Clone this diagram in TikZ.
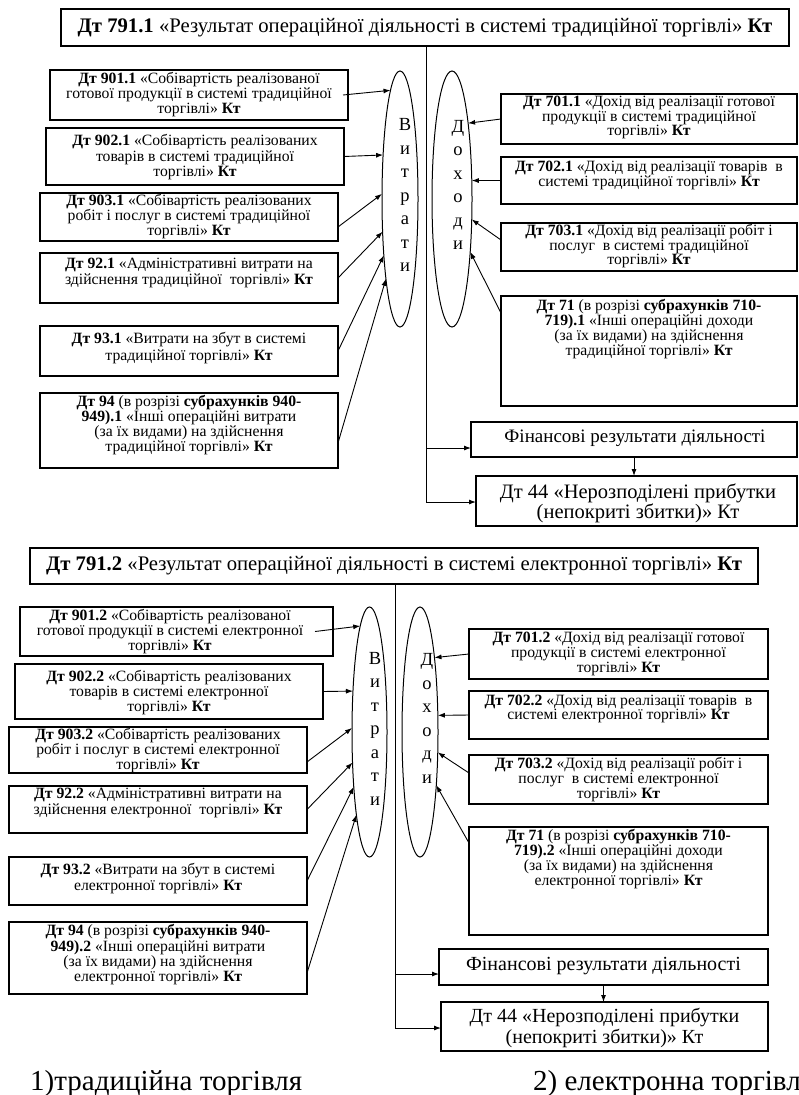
\documentclass[tikz,border=0pt]{standalone}
\usepackage{fontspec}
\setmainfont{Liberation Serif}
\usetikzlibrary{shapes.geometric,arrows.meta,fit,calc}
\begin{document}
\begin{tikzpicture}[x=1pt,y=-1pt,
  bx/.style={draw, inner sep=0pt, outer sep=0pt, line width=1.1pt},
  tx/.style={align=center, inner sep=0pt, font=\fontsize{15.7}{#1}\selectfont},
  tt/.style={inner sep=0pt, font=\fontsize{20.7}{22}\selectfont},
  big/.style={align=center, inner sep=0pt, font=\fontsize{19}{#1}\selectfont},
  vt/.style={align=center, inner sep=0pt, font=\fontsize{18.5}{23.5}\selectfont},
  el/.style={draw, ellipse, inner sep=0pt, outer sep=0pt, line width=1pt},
  arr/.style={-{Latex[length=7pt,width=5pt]}, line width=0.9pt},
  ln/.style={line width=1pt},
  captxt/.style={inner sep=0pt, anchor=base west, font=\fontsize{29}{30}\selectfont},
]
\clip (0,0) rectangle (798,1095);
\fill[white] (0,0) rectangle (798,1095);

% ================= TOP PART =================
\node[bx, fit={(61,9) (789,46)}] (t1) {};
\node[tt] (t1t) at (425,27.5) {\textbf{Дт 791.1} «Результат операційної діяльності в системі традиційної торгівлі» \textbf{Кт}};

\node[bx, fit={(50,70) (348,120)}] (l1) {};
\node[tx=12.5] (l1t) at (199,94.5) {\textbf{Дт 901.1} «Собівартість реалізованої\\готової продукції в системі традиційної\\торгівлі» \textbf{Кт}};
\node[bx, fit={(46,128) (344,185)}] (l2) {};
\node[tx=15.5] (l2t) at (195,157.5) {\textbf{Дт 902.1} «Собівартість реалізованих\\товарів в системі традиційної\\торгівлі» \textbf{Кт}};
\node[bx, fit={(40,193) (338,241)}] (l3) {};
\node[tx=13.5] (l3t) at (189,216.5) {\textbf{Дт 903.1} «Собівартість реалізованих\\робіт і послуг в системі традиційної\\торгівлі» \textbf{Кт}};
\node[bx, fit={(40,253) (338,303)}] (l4) {};
\node[tx=12] (l4t) at (189,273) {\textbf{Дт 92.1} «Адміністративні витрати на\\здійснення традиційної\ \ торгівлі» \textbf{Кт}};
\node[bx, fit={(40,326) (338,376)}] (l5) {};
\node[tx=17] (l5t) at (189,348.5) {\textbf{Дт 93.1} «Витрати на збут в системі\\традиційної торгівлі» \textbf{Кт}};
\node[bx, fit={(40,393) (338,468)}] (l6) {};
\node[tx=13.3] (l6t) at (189,425) {\textbf{Дт 94} (в розрізі \textbf{субрахунків 940-}\\\textbf{949).1} «Інші операційні витрати\\(за їх видами) на здійснення\\традиційної торгівлі» \textbf{Кт}};

\node[bx, fit={(501,94) (797,144)}] (r1) {};
\node[tx=11.5] (r1t) at (649,117.5) {\textbf{Дт 701.1} «Дохід від реалізації готової\\продукції в системі традиційної\\торгівлі» \textbf{Кт}};
\node[bx, fit={(501,157) (797,204)}] (r2) {};
\node[tx=14] (r2t) at (649,175) {\textbf{Дт 702.1} «Дохід від реалізації товарів\ \ в\\системі традиційної торгівлі» \textbf{Кт}};
\node[bx, fit={(501,223) (797,271)}] (r3) {};
\node[tx=12.5] (r3t) at (649,246) {\textbf{Дт 703.1} «Дохід від реалізації робіт і\\послуг\ \ в системі традиційної\\торгівлі» \textbf{Кт}};
\node[bx, fit={(501,296) (797,406)}] (r4) {};
\node[tx=14] (r4t) at (649,329) {\textbf{Дт 71} (в розрізі \textbf{субрахунків 710-}\\\textbf{719).1} «Інші операційні доходи\\(за їх видами) на здійснення\\традиційної торгівлі» \textbf{Кт}};

\node[el, minimum width=36pt, minimum height=256pt] (vit1) at (400,199) {};
\node[vt] (vit1t) at (405,195) {В\\и\\т\\р\\а\\т\\и};
\node[el, minimum width=40pt, minimum height=256pt] (doh1) at (452,199) {};
\node[vt] (doh1t) at (458,185) {Д\\о\\х\\о\\д\\и};

\node[bx, fit={(471,422) (797,457)}] (f1) {};
\node[big=20] (f1t) at (635,438) {Фінансові результати діяльності};
\node[bx, fit={(476,476) (797,526)}] (d1) {};
\node[big=20, font=\fontsize{20.5}{20}\selectfont] (d1t) at (638,503) {Дт 44 «Нерозподілені прибутки\\(непокриті збитки)» Кт};

\draw[arr] ($(l1.east)+(-5,0)$) -- (vit1.95.8);
\draw[arr] (l2.east) -- (vit1.111.8);
\draw[arr] ($(l3.east)+(0,10)$) -- (vit1.164.5);
\draw[arr] (l4.east) -- (vit1.242.2);
\draw[arr] (l5.east) -- (vit1.254.85);
\draw[arr] ($(l6.east)+(0,12.5)$) -- (vit1.260.8);

\draw[arr] (r1.west) -- (doh1.78.96);
\draw[arr] (r2.west) -- (doh1.43.07);
\draw[arr] ($(r3.west)+(0,-7)$) -- (doh1.314.6);
\draw[arr] ($(r4.north west)+(0,17)$) -- (doh1.289.8);

\draw[ln] (t1.south -| 426,0) -- (426,502);
\draw[arr] (426,448) -- (426,448 -| f1.west);
\draw[arr] (426,502) -- (426,502 -| d1.west);
\draw[arr] (f1.south) -- (f1.south |- d1.north);

% ================= BOTTOM PART =================
\node[bx, fit={(30,548) (758,584)}] (t2) {};
\node[tt] (t2t) at (394,566) {\textbf{Дт 791.2} «Результат операційної діяльності в системі електронної торгівлі» \textbf{Кт}};

\node[bx, fit={(20,607) (333,656)}] (l1b) {};
\node[tx=11.5] (l1bt) at (170,631.5) {\textbf{Дт 901.2} «Собівартість реалізованої\\готової продукції в системі електронної\\торгівлі» \textbf{Кт}};
\node[bx, fit={(15,664) (323,719)}] (l2b) {};
\node[tx=15] (l2bt) at (169,693) {\textbf{Дт 902.2} «Собівартість реалізованих\\товарів в системі електронної\\торгівлі» \textbf{Кт}};
\node[bx, fit={(9,727) (307,773)}] (l3b) {};
\node[tx=12.5] (l3bt) at (158,750.5) {\textbf{Дт 903.2} «Собівартість реалізованих\\робіт і послуг в системі електронної\\торгівлі» \textbf{Кт}};
\node[bx, fit={(9,786) (307,833)}] (l4b) {};
\node[tx=12] (l4bt) at (158,803) {\textbf{Дт 92.2} «Адміністративні витрати на\\здійснення електронної\ \ торгівлі» \textbf{Кт}};
\node[bx, fit={(9,857) (307,905)}] (l5b) {};
\node[tx=16] (l5bt) at (158,879) {\textbf{Дт 93.2} «Витрати на збут в системі\\електронної торгівлі» \textbf{Кт}};
\node[bx, fit={(9,922) (307,994)}] (l6b) {};
\node[tx=13] (l6bt) at (158,954.5) {\textbf{Дт 94} (в розрізі \textbf{субрахунків 940-}\\\textbf{949).2} «Інші операційні витрати\\(за їх видами) на здійснення\\електронної торгівлі» \textbf{Кт}};

\node[bx, fit={(469,629) (768,679)}] (r1b) {};
\node[tx=12] (r1bt) at (618.5,654) {\textbf{Дт 701.2} «Дохід від реалізації готової\\продукції в системі електронної\\торгівлі» \textbf{Кт}};
\node[bx, fit={(469,691) (768,739)}] (r2b) {};
\node[tx=12] (r2bt) at (618.5,709) {\textbf{Дт 702.2} «Дохід від реалізації товарів\ \ в\\системі електронної торгівлі» \textbf{Кт}};
\node[bx, fit={(469,755) (768,804)}] (r3b) {};
\node[tx=11.5] (r3bt) at (618.5,779.5) {\textbf{Дт 703.2} «Дохід від реалізації робіт і\\послуг\ \ в системі електронної\\торгівлі» \textbf{Кт}};
\node[bx, fit={(469,827) (768,935)}] (r4b) {};
\node[tx=13] (r4bt) at (618.5,859) {\textbf{Дт 71} (в розрізі \textbf{субрахунків 710-}\\\textbf{719).2} «Інші операційні доходи\\(за їх видами) на здійснення\\електронної торгівлі» \textbf{Кт}};

\node[el, minimum width=35pt, minimum height=250pt] (vit2) at (369.5,732) {};
\node[vt] (vit2t) at (375,728.5) {В\\и\\т\\р\\а\\т\\и};
\node[el, minimum width=36pt, minimum height=250pt] (doh2) at (420,732) {};
\node[vt] (doh2t) at (427,718.5) {Д\\о\\х\\о\\д\\и};

\node[bx, fit={(439,949) (768,985)}] (f2) {};
\node[big=20, font=\fontsize{20}{20}\selectfont] (f2t) at (603.5,966) {Фінансові результати діяльності};
\node[bx, fit={(441,1002) (768,1051)}] (d2) {};
\node[big=21, font=\fontsize{20}{21}\selectfont] (d2t) at (604.5,1027.5) {Дт 44 «Нерозподілені прибутки\\(непокриті збитки)» Кт};

\draw[arr] ($(l1b.east)+(-18,0)$) -- (vit2.95.9);
\draw[arr] (l2b.east) -- (vit2.112.2);
\draw[arr] ($(l3b.east)+(0,12)$) -- (vit2.167.1);
\draw[arr] (l4b.east) -- (vit2.241.3);
\draw[arr] (l5b.east) -- (vit2.254.7);
\draw[arr] ($(l6b.east)+(0,15)$) -- (vit2.261.0);

\draw[arr] (r1b.west) -- (doh2.79.78);
\draw[arr] (r2b.west) -- (doh2.43.64);
\draw[arr] ($(r3b.west)+(0,-6.5)$) -- (doh2.311.6);
\draw[arr] ($(r4b.north west)+(0,16)$) -- (doh2.287.9);

\draw[ln] (t2.south -| 395,0) -- (395,1028);
\draw[arr] (395,974) -- (395,974 -| f2.west);
\draw[arr] (395,1028) -- (395,1028 -| d2.west);
\draw[arr] (f2.south) -- (f2.south |- d2.north);

% ================= CAPTIONS =================
\node[captxt] (c1) at (30,1090) {1)традиційна торгівля};
\node[captxt] (c2) at (533,1090) {2) електронна торгівля};
\end{tikzpicture}
\end{document}
